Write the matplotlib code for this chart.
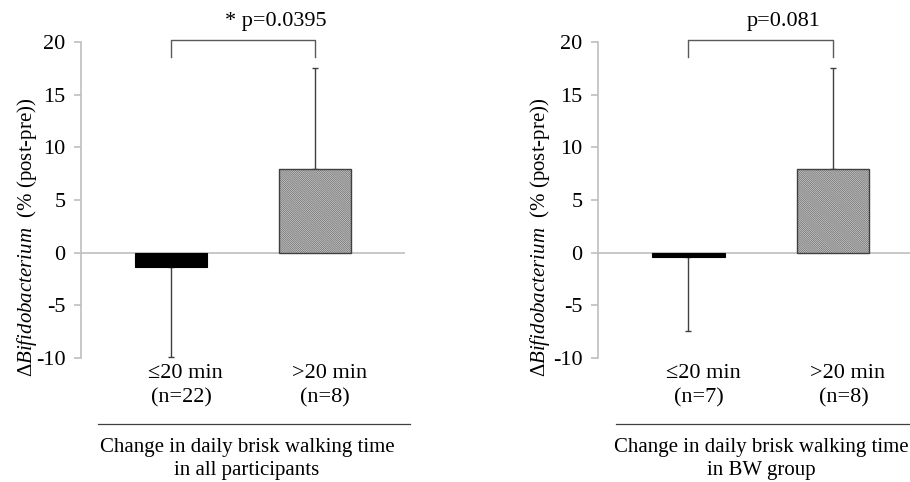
import matplotlib
matplotlib.use('Agg')
import matplotlib.pyplot as plt
from matplotlib.lines import Line2D
import matplotlib.transforms as mtransforms

# dados
grupos = ['\u226420 min', '>20 min']
n_todos = ['(n=22)', '(n=8)']
n_bw = ['(n=7)', '(n=8)']
media_todos = [-1.4, 7.9]
erro_todos = [8.5, 9.6]
media_bw = [-0.4, 7.9]
erro_bw = [7.0, 9.6]
p_todos = '* p=0.0395'
p_bw = 'p=0.081'
titulo_todos = 'Change in daily brisk walking time\nin all participants'
titulo_bw = 'Change in daily brisk walking time\nin BW group'
yticks = [-10, -5, 0, 5, 10, 15, 20]

plt.rcParams['font.family'] = 'Liberation Serif'
plt.rcParams['mathtext.fontset'] = 'custom'
plt.rcParams['mathtext.rm'] = 'Liberation Serif'
plt.rcParams['mathtext.it'] = 'Liberation Serif:italic'
plt.rcParams['hatch.linewidth'] = 0.7

FS = 15
CINZA = '#bfbfbf'

fig = plt.figure(figsize=(9.1, 4.82), dpi=100)
W, H = 910, 482


def eixo(px_esq, px_dir, px_top=42, px_bot=358):
    return fig.add_axes([px_esq / W, 1 - px_bot / H, (px_dir - px_esq) / W, (px_bot - px_top) / H])


def painel(ax, medias, erros, ns, p_txt, p_x, titulo, xmax, label_px):
    x = [0, 1]
    # barra preta
    ax.bar(x[0], medias[0], width=0.5, color='black', edgecolor='black', linewidth=0.8, zorder=3)
    # barra hachurada (bem densa, quase cinza)
    ax.bar(x[1], medias[1], width=0.5, color='#e6e6e6', edgecolor='#7a7a7a', hatch='\\' * 16,
           linewidth=0, zorder=3)
    ax.bar(x[1], medias[1], width=0.5, fill=False, edgecolor='#404040', linewidth=1.0, zorder=4)
    # barras de erro (so um lado)
    ax.errorbar(x[0], medias[0], yerr=[[erros[0]], [0]], fmt='none', ecolor='#404040',
                elinewidth=1.0, capsize=2.5, capthick=1.0, zorder=2)
    ax.errorbar(x[1], medias[1], yerr=[[0], [erros[1]]], fmt='none', ecolor='#404040',
                elinewidth=1.0, capsize=2.5, capthick=1.0, zorder=2)
    ax.axhline(0, color=CINZA, linewidth=1.2, zorder=1)

    ax.set_xlim(-0.625, xmax)
    ax.set_ylim(-10, 20)
    ax.set_yticks(yticks)
    ax.set_yticklabels([str(v) for v in yticks], fontsize=FS + 1)
    ax.set_xticks([])
    for s in ['top', 'right', 'bottom']:
        ax.spines[s].set_visible(False)
    ax.spines['left'].set_color(CINZA)
    ax.spines['left'].set_linewidth(1.2)
    ax.tick_params(axis='y', direction='out', length=5, width=1.2, color=CINZA, pad=6)

    # colchete de significancia
    ax.plot([0, 0, 1, 1], [18.6, 20.2, 20.2, 18.6], color='#595959', linewidth=1.0, clip_on=False)
    ax.text(p_x, 21.9, p_txt, ha='center', va='center', fontsize=FS + 1)

    trans = mtransforms.blended_transform_factory(ax.transData, ax.transAxes)
    for xi, g, n in zip(x, grupos, ns):
        ax.text(xi + 0.1, -0.05, g, transform=trans, ha='center', va='center', fontsize=FS + 1)
        ax.text(xi + 0.07, -0.127, n, transform=trans, ha='center', va='center', fontsize=FS + 1)

    fig.text(label_px / W, 1 - 237 / H,
             r'$\mathit{\Delta Bifidobacterium}$  (% (post-pre))',
             rotation=90, ha='center', va='center', fontsize=FS)
    return trans


ax1 = eixo(81, 405)
painel(ax1, media_todos, erro_todos, n_todos, p_todos, 0.73, titulo_todos, 1.625, 27)
fig.add_artist(Line2D([98 / W, 410 / W], [1 - 424 / H, 1 - 424 / H], color='#404040', linewidth=0.9))
fig.text(247 / W, 1 - 459 / H, titulo_todos, ha='center', va='center', fontsize=FS, linespacing=1.25)

ax2 = eixo(598, 910)
painel(ax2, media_bw, erro_bw, n_bw, p_bw, 0.66, titulo_bw, 1.53, 540)
fig.add_artist(Line2D([616 / W, 910 / W], [1 - 424 / H, 1 - 424 / H], color='#404040', linewidth=0.9))
fig.text(761 / W, 1 - 459 / H, titulo_bw, ha='center', va='center', fontsize=FS, linespacing=1.25)

fig.savefig('out.png', dpi=100, facecolor='white')
